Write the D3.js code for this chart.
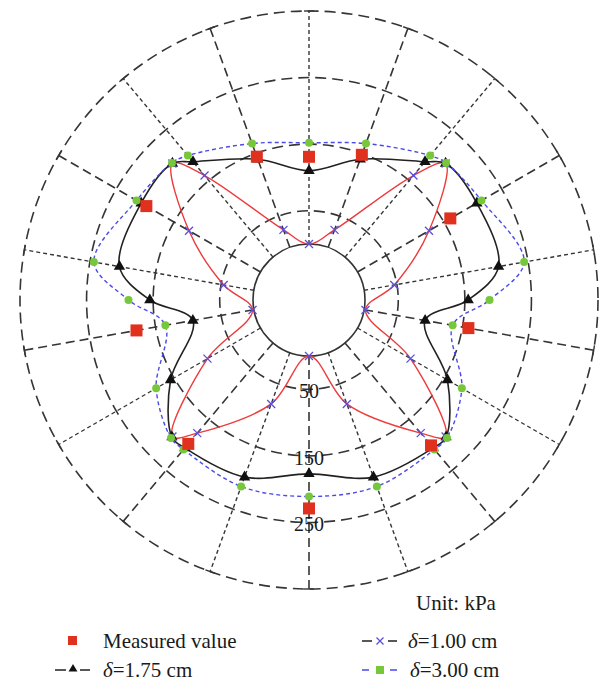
<!DOCTYPE html>
<html>
<head>
<meta charset="utf-8">
<script src="https://cdn.jsdelivr.net/npm/d3@7"></script>
<style>
  body { margin: 0; background: #fff; }
  text { font-family: "Liberation Serif", "DejaVu Serif", serif; fill: #1a1a1a; }
</style>
</head>
<body>
<svg id="chart" width="604" height="686"></svg>
<script>
// Bearings in degrees, clockwise from the crown of the tunnel
const spokeBearings = [0, 20, 40, 60, 80, 100, 120, 140, 160, 180, 200, 220, 240, 260, 280, 300, 320, 340];
const ringValues = [50, 150, 250, 350];
const ringLabels = [50, 150, 250];

// Calculated earth pressure (kPa) for three displacements
const calcBearings = [0, 20, 40, 45, 60, 80, 90, 100, 120, 135, 140, 160, 180,
                      200, 220, 225, 240, 260, 270, 280, 300, 315, 320, 340];
const delta300 = [152, 166, 199, 207, 215, 244, 187, 135, 181, 209, 209, 214, 211,
                  214, 209, 209, 181, 135, 187, 244, 215, 207, 199, 166];
const delta175 = [110, 141, 187, 206, 207, 205, 155, 93, 156, 207, 206, 199, 177,
                  199, 206, 207, 156, 93, 155, 205, 207, 206, 187, 141];

const d100Bearings = [0, 20, 40, 45, 60, 80, 100, 120, 135, 140, 160, 180,
                      200, 220, 225, 240, 260, 280, 300, 315, 320, 340];
const delta100 = [0, 28, 160, 206, 124, 46, 2, 92, 206, 177, 82, 0,
                  82, 177, 206, 92, 2, 46, 124, 206, 160, 28];

// Measured earth pressure (kPa)
const measBearings = [0, 20, 60, 100, 140, 180, 220, 260, 300, 340];
const measured = [131, 148, 161, 159, 201, 229, 198, 179, 198, 145];

const cx = 309, cy = 300;
const rScale = d3.scaleLinear().domain([0, 350]).range([56, 289]);
const rad = b => b * Math.PI / 180;
const px = (b, v) => rScale(v) * Math.sin(rad(b));
const py = (b, v) => -rScale(v) * Math.cos(rad(b));

const svg = d3.select("#chart");
const g = svg.append("g").attr("transform", `translate(${cx},${cy})`);

// ---- grid ----
const gridColor = "#353535";
const grid = g.append("g");
grid.selectAll("circle.ring").data(ringValues).join("circle")
  .attr("class", "ring")
  .attr("r", d => rScale(d))
  .attr("fill", "none")
  .attr("stroke", gridColor)
  .attr("stroke-width", 1.6)
  .attr("stroke-dasharray", "11,6");

grid.selectAll("line.spoke").data(spokeBearings).join("line")
  .attr("class", "spoke")
  .attr("x1", d => px(d, 0)).attr("y1", d => py(d, 0))
  .attr("x2", d => px(d, 350)).attr("y2", d => py(d, 350))
  .attr("stroke", gridColor)
  .attr("stroke-width", (d, i) => i % 2 === 0 ? 1.4 : 1.6)
  .attr("stroke-dasharray", (d, i) => i % 2 === 0 ? "4,3" : "9,5");

// end ticks on the outer ring
const tickHalf = 5;
grid.selectAll("line.endtick").data(spokeBearings).join("line")
  .attr("class", "endtick")
  .attr("x1", d => px(d, 350) + tickHalf * Math.cos(rad(d)))
  .attr("y1", d => py(d, 350) + tickHalf * Math.sin(rad(d)))
  .attr("x2", d => px(d, 350) - tickHalf * Math.cos(rad(d)))
  .attr("y2", d => py(d, 350) - tickHalf * Math.sin(rad(d)))
  .attr("stroke", gridColor)
  .attr("stroke-width", 1.4);

// tunnel lining
g.append("circle")
  .attr("r", rScale(0))
  .attr("fill", "#fff")
  .attr("stroke", "#333")
  .attr("stroke-width", 1.6);

// ring labels along the invert
g.selectAll("text.rlab").data(ringLabels).join("text")
  .attr("class", "rlab")
  .attr("x", 0)
  .attr("y", d => rScale(d) + 2)
  .attr("text-anchor", "middle")
  .attr("dominant-baseline", "central")
  .attr("font-size", 20)
  .text(d => d);

// ---- curves ----
const radial = d3.lineRadial()
  .angle(d => rad(d.b))
  .radius(d => rScale(d.v))
  .curve(d3.curveCatmullRomClosed.alpha(0.5));

const zip = (bs, vs) => bs.map((b, i) => ({ b, v: vs[i] }));
const s100 = zip(d100Bearings, delta100);
const s175 = zip(calcBearings, delta175);
const s300 = zip(calcBearings, delta300);
const sMeas = zip(measBearings, measured);

g.append("path").datum(s100)
  .attr("d", radial)
  .attr("fill", "none")
  .attr("stroke", "#ee3a3a")
  .attr("stroke-width", 1.4);

g.append("path").datum(s175)
  .attr("d", radial)
  .attr("fill", "none")
  .attr("stroke", "#222")
  .attr("stroke-width", 1.6);

g.append("path").datum(s300)
  .attr("d", radial)
  .attr("fill", "none")
  .attr("stroke", "#4a4ae6")
  .attr("stroke-width", 1.4)
  .attr("stroke-dasharray", "4,3");

// ---- markers ----
const tri = d3.symbol().type(d3.symbolTriangle).size(56);
g.selectAll("path.tri").data(s175).join("path")
  .attr("class", "tri")
  .attr("d", tri)
  .attr("transform", d => `translate(${px(d.b, d.v)},${py(d.b, d.v)})`)
  .attr("fill", "#111");

const crossPath = "M-4,-4L4,4M-4,4L4,-4";
g.selectAll("path.cross").data(s100).join("path")
  .attr("class", "cross")
  .attr("d", crossPath)
  .attr("transform", d => `translate(${px(d.b, d.v)},${py(d.b, d.v)})`)
  .attr("stroke", "#5b4fd8")
  .attr("stroke-width", 1.3)
  .attr("fill", "none");

g.selectAll("circle.dot").data(s300).join("circle")
  .attr("class", "dot")
  .attr("cx", d => px(d.b, d.v))
  .attr("cy", d => py(d.b, d.v))
  .attr("r", 4)
  .attr("fill", "#76c83a");

g.selectAll("rect.meas").data(sMeas).join("rect")
  .attr("class", "meas")
  .attr("x", d => px(d.b, d.v) - 6)
  .attr("y", d => py(d.b, d.v) - 6)
  .attr("width", 12).attr("height", 12)
  .attr("fill", "#e0301e");

// ---- unit and legend ----
const fs = 21;
svg.append("text")
  .attr("x", 416).attr("y", 610)
  .attr("font-size", fs)
  .text("Unit: kPa");

const lg = svg.append("g");
// measured
lg.append("rect").attr("x", 68).attr("y", 636).attr("width", 9).attr("height", 9).attr("fill", "#e0301e");
lg.append("text").attr("x", 103).attr("y", 648).attr("font-size", fs).text("Measured value");

// delta = 1.00
lg.append("path").attr("d", "M362,641H372M388,641H397").attr("stroke", "#222").attr("stroke-width", 1.4);
lg.append("path").attr("d", "M376.5,637.5L383.5,644.5M376.5,644.5L383.5,637.5")
  .attr("stroke", "#5b4fd8").attr("stroke-width", 1.3);
const t1 = lg.append("text").attr("x", 408).attr("y", 648).attr("font-size", fs);
t1.append("tspan").attr("font-style", "italic").text("δ");
t1.append("tspan").text("=1.00 cm");

// delta = 1.75
lg.append("path").attr("d", "M55,670H66M80,670H90").attr("stroke", "#222").attr("stroke-width", 1.4);
lg.append("path").attr("d", d3.symbol().type(d3.symbolTriangle).size(34))
  .attr("transform", "translate(73,669)").attr("fill", "#111");
const t2 = lg.append("text").attr("x", 103).attr("y", 677).attr("font-size", fs);
t2.append("tspan").attr("font-style", "italic").text("δ");
t2.append("tspan").text("=1.75 cm");

// delta = 3.00
lg.append("path").attr("d", "M362,670H369M390,670H397").attr("stroke", "#4a4ae6").attr("stroke-width", 1.4);
lg.append("rect").attr("x", 376).attr("y", 666).attr("width", 8).attr("height", 8).attr("fill", "#76c83a");
const t3 = lg.append("text").attr("x", 410).attr("y", 677).attr("font-size", fs);
t3.append("tspan").attr("font-style", "italic").text("δ");
t3.append("tspan").text("=3.00 cm");
</script>
</body>
</html>
